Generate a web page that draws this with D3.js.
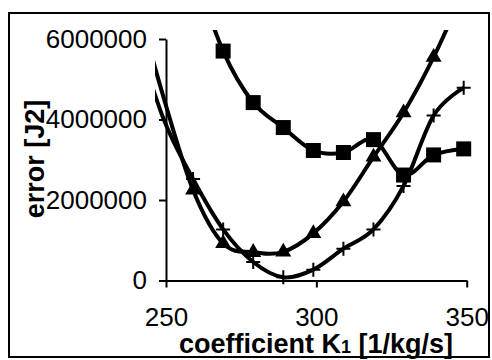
<!DOCTYPE html>
<html><head><meta charset="utf-8">
<script src="https://cdn.jsdelivr.net/npm/d3@7"></script>
<style>body{margin:0;background:#fff}svg{display:block}</style>
</head><body>
<svg id="c" width="492" height="360"></svg>
<script>
// ---- data ----
const xTicks = [250, 300, 350];
const yTicks = [0, 2000000, 4000000, 6000000];
const squareX = [259, 269, 279, 289, 299, 309, 319, 329, 339, 349];
const squareY = [7800000, 5700000, 4420000, 3800000, 3230000, 3180000, 3500000, 2620000, 3120000, 3270000];
const triangleX = [239, 249, 259, 269, 279, 289, 299, 309, 319, 329, 339, 349];
const triangleY = [7300000, 4600000, 2250000, 920000, 700000, 710000, 1170000, 1960000, 3070000, 4170000, 5550000, 7200000];
const plusX = [239, 249, 259, 269, 279, 289, 299, 309, 319, 329, 339, 349];
const plusY = [6400000, 4050000, 2520000, 1270000, 460000, 80000, 270000, 790000, 1270000, 2350000, 4100000, 4790000];

const svg = d3.select("#c");
const font = "'Liberation Sans', Arial, sans-serif";

// outer border
svg.append("rect").attr("x", 9).attr("y", 13).attr("width", 480).attr("height", 344)
  .attr("fill", "none").attr("stroke", "#000").attr("stroke-width", 2);

const xDomain = [250, 350], yDomain = [0, 6000000];
const x = d3.scaleLinear().domain(xDomain).range([166, 466.7]);
const y = d3.scaleLinear().domain(yDomain).range([280.5, 39]);

// axes
const yAxis = d3.axisLeft(y).tickValues(yTicks).tickFormat(d3.format("d")).tickSizeInner(7).tickSizeOuter(0).tickPadding(12);
const gy = svg.append("g").attr("transform", "translate(166,0)").call(yAxis);
gy.select(".domain").attr("stroke-width", 2);
gy.selectAll(".tick line").attr("stroke-width", 2);
gy.selectAll("text").attr("font-family", font).attr("font-size", 26).attr("fill", "#000");

const xAxis = d3.axisBottom(x).tickValues(xTicks).tickSizeInner(7).tickSizeOuter(0).tickPadding(10);
const gx = svg.append("g").attr("transform", "translate(0,280.5)").call(xAxis);
gx.select(".domain").attr("stroke-width", 2);
gx.selectAll(".tick line").attr("stroke-width", 2);
gx.selectAll("text").attr("font-family", font).attr("font-size", 26).attr("fill", "#000")
  .attr("dy", null).attr("y", 45);

// axis titles
const xt = svg.append("text").attr("x", 316).attr("y", 353).attr("text-anchor", "middle")
  .attr("font-family", font).attr("font-weight", "bold").attr("font-size", 27);
xt.append("tspan").text("coefficient K");
xt.append("tspan").attr("font-size", 18).text("1");
xt.append("tspan").text(" [1/kg/s]");

svg.append("text").attr("transform", "translate(44,159) rotate(-90)").attr("text-anchor", "middle")
  .attr("font-family", font).attr("font-weight", "bold").attr("font-size", 27).text("error [J2]");

// clip for plot
svg.append("clipPath").attr("id", "clip").append("rect")
  .attr("x", 155).attr("y", 30).attr("width", 330).attr("height", 270);
const plot = svg.append("g").attr("clip-path", "url(#clip)");

const line = d3.line().x(d => x(d[0])).y(d => y(d[1])).curve(d3.curveCardinal.tension(0));

function series(xs, ys) { return xs.map((v, i) => [v, ys[i]]); }
const sq = series(squareX, squareY), tr = series(triangleX, triangleY), pl = series(plusX, plusY);
// markers are only drawn for points inside the axis ranges
const inside = d => d[0] >= xDomain[0] && d[0] <= xDomain[1] && d[1] >= yDomain[0] && d[1] <= yDomain[1];

[sq, tr, pl].forEach(s => plot.append("path").attr("d", line(s))
  .attr("fill", "none").attr("stroke", "#000").attr("stroke-width", 4));

// markers
plot.selectAll(".sq").data(sq.filter(inside)).enter().append("rect")
  .attr("x", d => x(d[0]) - 7.5).attr("y", d => y(d[1]) - 7.5)
  .attr("width", 15).attr("height", 15).attr("fill", "#000");

const triSym = d3.symbol().type(d3.symbolTriangle).size(110);
plot.selectAll(".tr").data(tr.filter(inside)).enter().append("path")
  .attr("d", triSym).attr("transform", d => `translate(${x(d[0])},${y(d[1])})`).attr("fill", "#000");

plot.selectAll(".pl").data(pl.filter(inside)).enter().append("path")
  .attr("d", "M-7,0H7M0,-7V7").attr("transform", d => `translate(${x(d[0])},${y(d[1])})`)
  .attr("stroke", "#000").attr("stroke-width", 2).attr("fill", "none");
</script>
</body></html>
